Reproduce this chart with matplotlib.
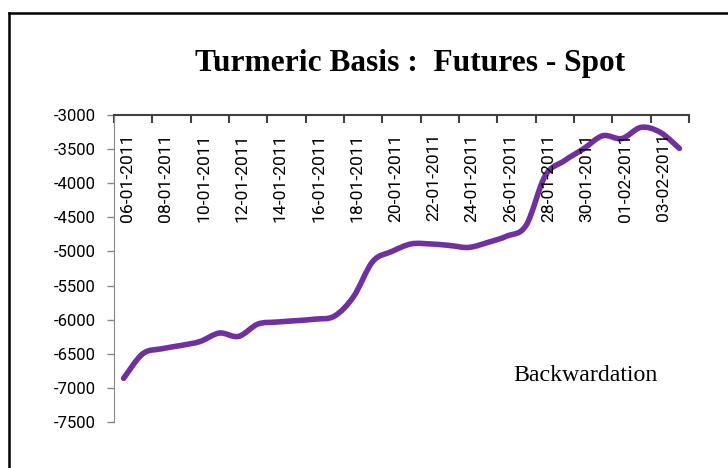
from datetime import date, timedelta

import numpy as np
import matplotlib
matplotlib.use("Agg")
import matplotlib.dates as mdates
from matplotlib import pyplot as plt
from matplotlib.path import Path
from matplotlib.patches import PathPatch
from matplotlib.lines import Line2D
from matplotlib.transforms import offset_copy

# daily basis values, 06-01-2011 .. 04-02-2011
start_day = date(2011, 1, 6)
basis = [-6860, -6500, -6426, -6378, -6319, -6196, -6245, -6065, -6035, -6015,
         -5992, -5948, -5662, -5147, -5000, -4890, -4890, -4912, -4941, -4868,
         -4775, -4618, -3890, -3670, -3495, -3304, -3345, -3181, -3254, -3490]
days = [start_day + timedelta(days=i) for i in range(len(basis))]

# every second day gets a label
tick_labels = [d.strftime("%d-%m-%Y") for d in days[::2]]
y_ticks = [-7500, -7000, -6500, -6000, -5500, -5000, -4500, -4000, -3500, -3000]

PURPLE = "#7030A0"


def smooth_path(xs, ys, k=1.0 / 6.0):
    """Excel style smoothed line: cubic bezier through every point."""
    pts = np.column_stack([xs, ys])
    ext = np.vstack([pts[0], pts, pts[-1]])
    verts = [pts[0]]
    codes = [Path.MOVETO]
    for i in range(len(pts) - 1):
        p0, p1, p2, p3 = ext[i], ext[i + 1], ext[i + 2], ext[i + 3]
        verts += [p1 + (p2 - p0) * k, p2 - (p3 - p1) * k, p2]
        codes += [Path.CURVE4] * 3
    return Path(verts, codes)


fig = plt.figure(figsize=(7.28, 4.68), dpi=100)
ax = fig.add_axes([114 / 728, 1 - 422 / 468, (689 - 114) / 728, (422 - 115) / 468])

x = mdates.date2num(days)
ax.add_patch(PathPatch(smooth_path(x, basis), fill=False, edgecolor=PURPLE,
                       lw=4, capstyle="round", joinstyle="round"))

ax.set_xlim(x[0] - 0.5, x[-1] + 0.5)
ax.set_ylim(-7500, -3000)

# y axis
ax.set_yticks(y_ticks)
ax.set_yticklabels([str(v) for v in y_ticks], fontfamily="Roboto", fontsize=12)
ax.tick_params(axis="y", direction="out", length=5, width=1, color="#868686", pad=8)
ax.spines["left"].set_color("#868686")

# x axis sits on top at -3000, labels hang down into the plot
ax.spines["bottom"].set_visible(False)
ax.spines["right"].set_visible(False)
ax.spines["top"].set_color("#404040")
ax.spines["top"].set_linewidth(1.5)
ax.xaxis.set_ticks_position("top")
ax.set_xticks(np.arange(x[0] - 0.5, x[-1] + 1.0, 2))
ax.tick_params(axis="x", direction="in", length=6, width=1.5, color="#404040",
               labeltop=False, labelbottom=False)

trans = offset_copy(ax.get_xaxis_transform(), fig=fig, x=2.5, y=-13, units="points")
for d, lab in zip(x[::2], tick_labels):
    ax.text(d, 1, lab, transform=trans, rotation=90, ha="center", va="top",
            fontfamily="Roboto", fontsize=12.6)

fig.text(410 / 728, 1 - 64 / 468, "Turmeric Basis :  Futures - Spot",
         ha="center", va="center", fontfamily="Liberation Serif",
         fontweight="bold", fontsize=22.6)
ax.text(0.694, 0.133, "Backwardation", transform=ax.transAxes, ha="left",
        va="baseline", fontfamily="Liberation Serif", fontsize=17.2)

# chart area border, runs off the right and bottom edges
fig.add_artist(Line2D([9 / 728, 9 / 728], [0, 1 - 13 / 468], transform=fig.transFigure,
                      color="black", lw=1.8))
fig.add_artist(Line2D([9 / 728, 1], [1 - 13 / 468, 1 - 13 / 468], transform=fig.transFigure,
                      color="black", lw=1.8))

fig.savefig("out.png", dpi=100)
